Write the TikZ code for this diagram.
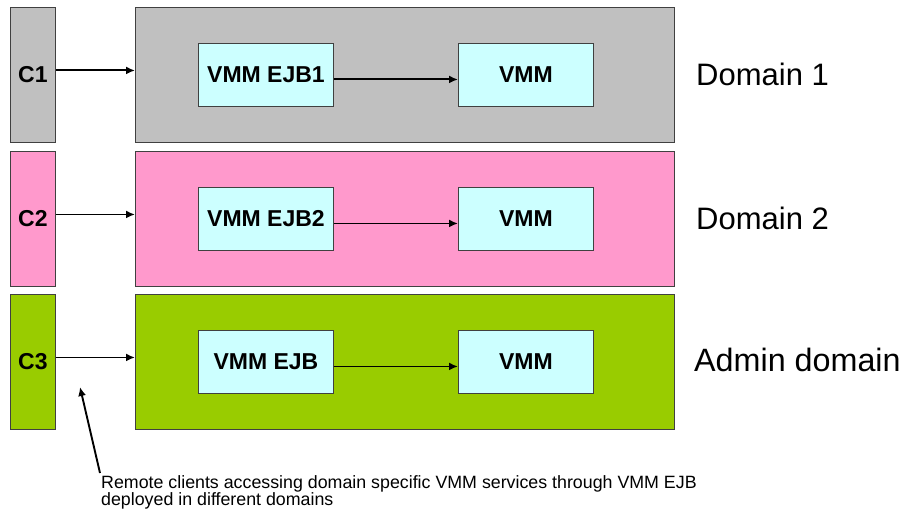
\documentclass[tikz,border=0pt]{standalone}
\usepackage{fontspec}
\setmainfont{Liberation Sans}
\usetikzlibrary{arrows.meta}
\definecolor{cgray}{HTML}{C0C0C0}
\definecolor{cpink}{HTML}{FF99CC}
\definecolor{cgreen}{HTML}{99CC00}
\definecolor{ccyan}{HTML}{CCFFFF}
\definecolor{edge}{HTML}{404040}
\begin{document}
\begin{tikzpicture}[x=1pt,y=-1pt,
  box/.style={draw=edge, line width=0.9pt, anchor=north west, inner sep=0pt},
  client/.style={box, minimum width=45pt, minimum height=135pt, font=\fontsize{23}{26}\selectfont\bfseries},
  dombox/.style={box, minimum width=539pt, minimum height=135pt},
  inner/.style={box, fill=ccyan, minimum width=135pt, minimum height=63pt, font=\fontsize{23}{26}\selectfont\bfseries},
  dlabel/.style={anchor=west, inner sep=0pt, font=\fontsize{31}{34}\selectfont},
  conn/.style={line width=1.9pt, -{Latex[length=9pt,width=8pt]}}]
\useasboundingbox (0,0) rectangle (906,511);
% row 1
\node[client, fill=cgray] (c1) at (10,7) {C1};
\node[dombox, fill=cgray] (d1) at (135,7) {};
\node[inner] (e1) at (198,43) {VMM EJB1};
\node[inner] (v1) at (458,43) {VMM};
\node[dlabel] (l1) at (696,74) {Domain 1};
% row 2
\node[client, fill=cpink] (c2) at (10,151) {C2};
\node[dombox, fill=cpink] (d2) at (135,151) {};
\node[inner] (e2) at (198,187) {VMM EJB2};
\node[inner] (v2) at (458,187) {VMM};
\node[dlabel] (l2) at (696,218) {Domain 2};
% row 3
\node[client, fill=cgreen] (c3) at (10,294) {C3};
\node[dombox, fill=cgreen] (d3) at (135,294) {};
\node[inner] (e3) at (198,330) {VMM EJB};
\node[inner] (v3) at (458,330) {VMM};
\node[dlabel, font=\fontsize{32.3}{35}\selectfont] (l3) at (694,360) {Admin domain};
% connectors
\foreach \i in {1,2,3}{
  \draw[conn] ([yshift=4.5pt]c\i.east) -- ([yshift=4.5pt]d\i.west);
  \draw[conn] ([yshift=-4.5pt]e\i.east) -- ([yshift=-4.5pt]v\i.west);
}
% note
\coordinate (ntail) at (100,473);
\coordinate (ntip) at (80,387);
\draw[conn] (ntail) -- (ntip);
\node[anchor=north west, inner sep=0pt, align=left, font=\fontsize{17.8}{16}\selectfont] (note) at (101,475)
  {Remote clients accessing domain specific VMM services through VMM EJB\\deployed in different domains};
\end{tikzpicture}
\end{document}
